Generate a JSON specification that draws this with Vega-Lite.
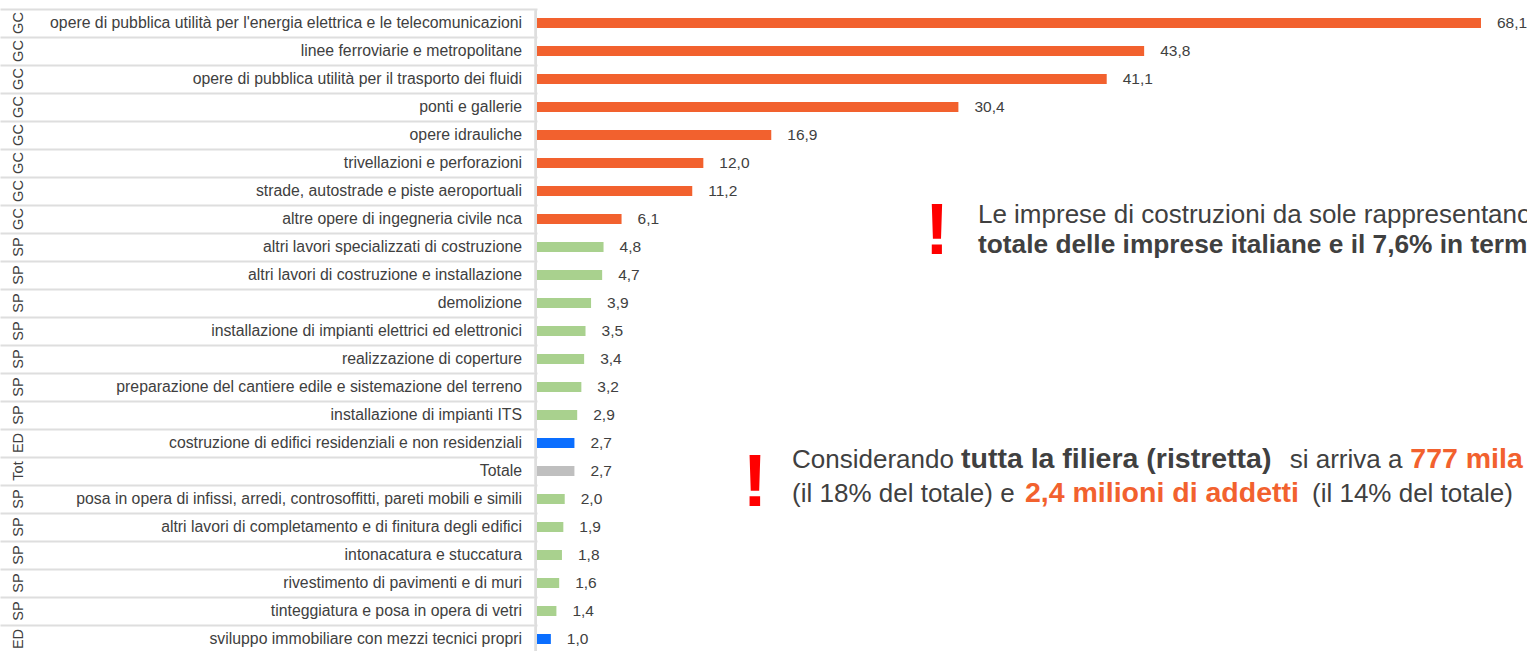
{
  "$schema": "https://vega.github.io/schema/vega-lite/v6.json",
  "padding": {"left": 0, "top": 8, "right": 0, "bottom": 0},
  "autosize": {"type": "pad"},
  "config": {
    "font": "Liberation Sans",
    "view": {"stroke": null},
    "locale": {"number": {"decimal": ",", "thousands": ".", "grouping": [3], "currency": ["", " €"]}}
  },
  "data": {"values": [
    {"grp": "GC", "cat": "opere di pubblica utilità per l'energia elettrica e le telecomunicazioni", "v": 68.1},
    {"grp": "GC", "cat": "linee ferroviarie e metropolitane", "v": 43.8},
    {"grp": "GC", "cat": "opere di pubblica utilità per il trasporto dei fluidi", "v": 41.1},
    {"grp": "GC", "cat": "ponti e gallerie", "v": 30.4},
    {"grp": "GC", "cat": "opere idrauliche", "v": 16.9},
    {"grp": "GC", "cat": "trivellazioni e perforazioni", "v": 12.0},
    {"grp": "GC", "cat": "strade, autostrade e piste aeroportuali", "v": 11.2},
    {"grp": "GC", "cat": "altre opere di ingegneria civile nca", "v": 6.1},
    {"grp": "SP", "cat": "altri lavori specializzati di costruzione", "v": 4.8},
    {"grp": "SP", "cat": "altri lavori di costruzione e installazione", "v": 4.7},
    {"grp": "SP", "cat": "demolizione", "v": 3.9},
    {"grp": "SP", "cat": "installazione di impianti elettrici ed elettronici", "v": 3.5},
    {"grp": "SP", "cat": "realizzazione di coperture", "v": 3.4},
    {"grp": "SP", "cat": "preparazione del cantiere edile e sistemazione del terreno", "v": 3.2},
    {"grp": "SP", "cat": "installazione di impianti ITS", "v": 2.9},
    {"grp": "ED", "cat": "costruzione di edifici residenziali e non residenziali", "v": 2.7},
    {"grp": "Tot", "cat": "Totale", "v": 2.7},
    {"grp": "SP", "cat": "posa in opera di infissi, arredi, controsoffitti, pareti mobili e simili", "v": 2.0},
    {"grp": "SP", "cat": "altri lavori di completamento e di finitura degli edifici", "v": 1.9},
    {"grp": "SP", "cat": "intonacatura e stuccatura", "v": 1.8},
    {"grp": "SP", "cat": "rivestimento di pavimenti e di muri", "v": 1.6},
    {"grp": "SP", "cat": "tinteggiatura e posa in opera di vetri", "v": 1.4},
    {"grp": "ED", "cat": "sviluppo immobiliare con mezzi tecnici propri", "v": 1.0}
  ]},
  "spacing": 0,
  "resolve": {"scale": {"x": "independent", "y": "shared"}},
  "hconcat": [
    {
      "width": 537,
      "height": 644,
      "encoding": {
        "y": {
          "field": "cat", "type": "nominal", "sort": null,
          "scale": {"paddingInner": 0, "paddingOuter": 0},
          "axis": {"labels": false, "ticks": false, "domain": false, "grid": true, "gridColor": "#DEDEDE", "gridWidth": 2, "tickBand": "extent", "title": null, "minExtent": 0, "maxExtent": 0}
        }
      },
      "layer": [
        {
          "mark": {"type": "rule", "color": "#DEDEDE", "strokeWidth": 2},
          "encoding": {"x": {"datum": 0.998, "type": "quantitative", "scale": {"domain": [0, 1], "nice": false}, "axis": null}, "y": null}
        },
        {
          "mark": {"type": "text", "align": "center", "baseline": "middle", "angle": 270, "fontSize": 14.5, "color": "#404040"},
          "encoding": {"x": {"datum": 0.0363, "type": "quantitative"}, "text": {"field": "grp"}}
        },
        {
          "mark": {"type": "text", "align": "right", "baseline": "middle", "dx": -15, "fontSize": 15.8, "color": "#404040"},
          "encoding": {"x": {"datum": 1, "type": "quantitative"}, "text": {"field": "cat"}}
        }
      ]
    },
    {
      "width": 990,
      "height": 644,
      "encoding": {
        "y": {"field": "cat", "type": "nominal", "sort": null, "axis": null}
      },
      "layer": [
        {
          "mark": {"type": "bar", "size": 10},
          "encoding": {
            "x": {"field": "v", "type": "quantitative", "scale": {"domain": [0, 71.42], "nice": false}, "axis": null},
            "color": {"field": "grp", "type": "nominal", "scale": {"domain": ["GC", "SP", "ED", "Tot"], "range": ["#F2612E", "#A9D18E", "#0A6EFF", "#BFBFBF"]}, "legend": null}
          }
        },
        {
          "mark": {"type": "text", "align": "left", "baseline": "middle", "dx": 16, "fontSize": 15.5, "color": "#404040", "clip": true},
          "encoding": {
            "x": {"field": "v", "type": "quantitative"},
            "text": {"field": "v", "type": "quantitative", "format": ".1f"}
          }
        },
        {
          "data": {"values": [{}]},
          "mark": {"type": "text", "text": "!", "align": "center", "baseline": "alphabetic", "dy": 7, "fontSize": 72, "fontWeight": "bold", "color": "#FF0000"},
          "encoding": {"x": {"datum": 28.86, "type": "quantitative"}, "y": {"datum": "altri lavori specializzati di costruzione"}}
        },
        {
          "data": {"values": [{}]},
          "mark": {"type": "text", "text": "Le imprese di costruzioni da sole rappresentano il 2,7% del", "align": "left", "baseline": "alphabetic", "dy": 4, "fontSize": 26, "color": "#404040", "clip": true},
          "encoding": {"x": {"datum": 31.81, "type": "quantitative"}, "y": {"datum": "altre opere di ingegneria civile nca"}}
        },
        {
          "data": {"values": [{}]},
          "mark": {"type": "text", "text": "totale delle imprese italiane e il 7,6% in termini di addetti", "align": "left", "baseline": "alphabetic", "dy": 6, "fontSize": 26.3, "fontWeight": "bold", "color": "#404040", "clip": true},
          "encoding": {"x": {"datum": 31.81, "type": "quantitative"}, "y": {"datum": "altri lavori specializzati di costruzione"}}
        },
        {
          "data": {"values": [{}]},
          "mark": {"type": "text", "text": "!", "align": "center", "baseline": "alphabetic", "dy": 7, "fontSize": 75, "fontWeight": "bold", "color": "#FF0000"},
          "encoding": {"x": {"datum": 15.73, "type": "quantitative"}, "y": {"datum": "posa in opera di infissi, arredi, controsoffitti, pareti mobili e simili"}}
        },
        {
          "data": {"values": [{}]},
          "mark": {"type": "text", "text": "Considerando", "align": "left", "baseline": "alphabetic", "dy": -3, "fontSize": 26, "color": "#404040", "clip": true},
          "encoding": {"x": {"datum": 18.40, "type": "quantitative"}, "y": {"datum": "Totale"}}
        },
        {
          "data": {"values": [{}]},
          "mark": {"type": "text", "text": "tutta la filiera (ristretta)", "align": "left", "baseline": "alphabetic", "dy": -3, "fontSize": 28.5, "fontWeight": "bold", "color": "#404040", "clip": true},
          "encoding": {"x": {"datum": 30.59, "type": "quantitative"}, "y": {"datum": "Totale"}}
        },
        {
          "data": {"values": [{}]},
          "mark": {"type": "text", "text": "si arriva a", "align": "left", "baseline": "alphabetic", "dy": -3, "fontSize": 26, "color": "#404040", "clip": true},
          "encoding": {"x": {"datum": 54.3, "type": "quantitative"}, "y": {"datum": "Totale"}}
        },
        {
          "data": {"values": [{}]},
          "mark": {"type": "text", "text": "777 mila imprese", "align": "left", "baseline": "alphabetic", "dy": -3, "fontSize": 28.5, "fontWeight": "bold", "color": "#F2612E", "clip": true},
          "encoding": {"x": {"datum": 63.0, "type": "quantitative"}, "y": {"datum": "Totale"}}
        },
        {
          "data": {"values": [{}]},
          "mark": {"type": "text", "text": "(il 18% del totale) e", "align": "left", "baseline": "alphabetic", "dy": 3, "fontSize": 26, "color": "#404040", "clip": true},
          "encoding": {"x": {"datum": 18.40, "type": "quantitative"}, "y": {"datum": "posa in opera di infissi, arredi, controsoffitti, pareti mobili e simili"}}
        },
        {
          "data": {"values": [{}]},
          "mark": {"type": "text", "text": "2,4 milioni di addetti", "align": "left", "baseline": "alphabetic", "dy": 3, "fontSize": 28.5, "fontWeight": "bold", "color": "#F2612E", "clip": true},
          "encoding": {"x": {"datum": 35.20, "type": "quantitative"}, "y": {"datum": "posa in opera di infissi, arredi, controsoffitti, pareti mobili e simili"}}
        },
        {
          "data": {"values": [{}]},
          "mark": {"type": "text", "text": "(il 14% del totale)", "align": "left", "baseline": "alphabetic", "dy": 3, "fontSize": 26, "color": "#404040", "clip": true},
          "encoding": {"x": {"datum": 55.91, "type": "quantitative"}, "y": {"datum": "posa in opera di infissi, arredi, controsoffitti, pareti mobili e simili"}}
        }
      ]
    }
  ]
}
